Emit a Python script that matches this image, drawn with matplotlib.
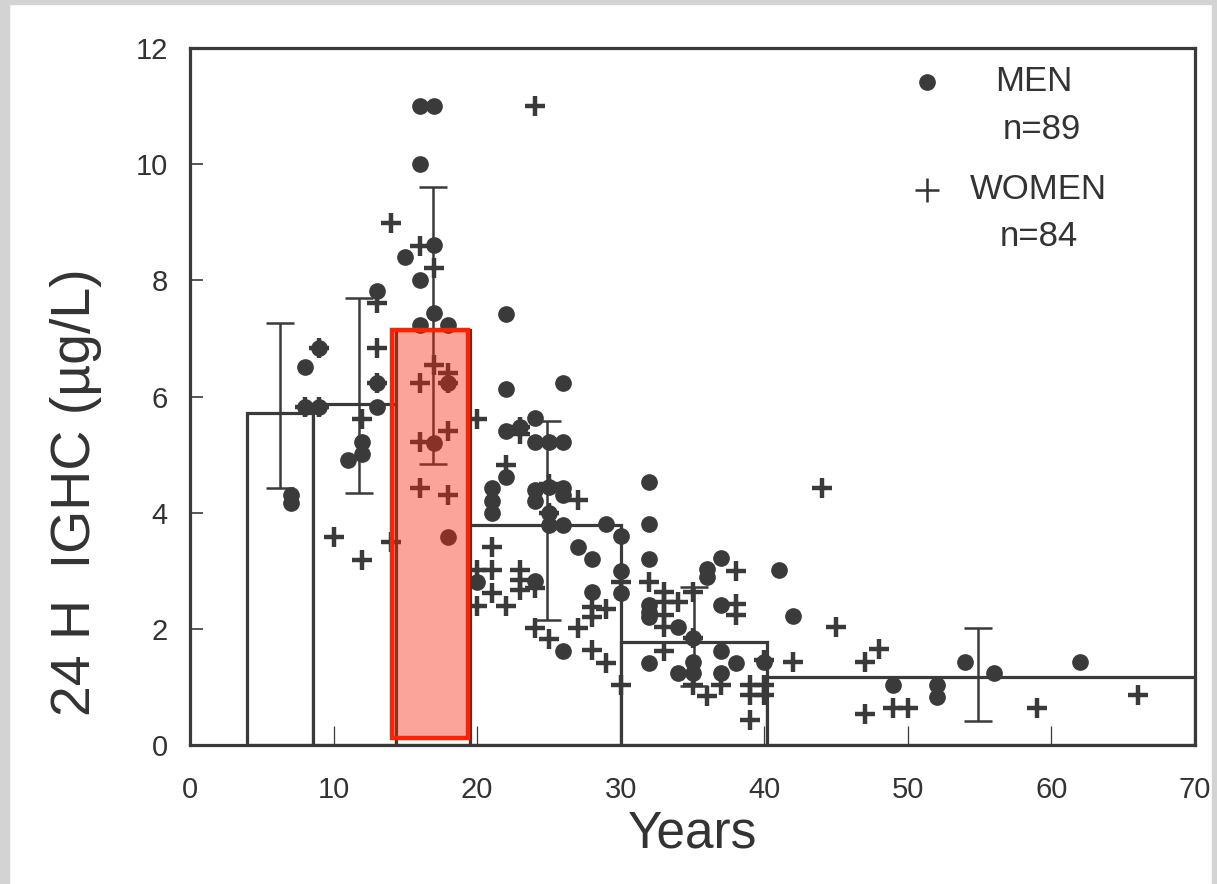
import numpy as np
import matplotlib
matplotlib.use("Agg")
import matplotlib.pyplot as plt
from matplotlib.patches import Rectangle

# group boxes (age ranges and mean level)
bar_left = [4.0, 8.6, 14.35, 19.5, 30.0, 40.2]
bar_right = [8.6, 14.35, 19.5, 30.0, 40.2, 70.0]
bar_height = [5.71, 5.87, 7.14, 3.79, 1.77, 1.17]

# error bars (position, lower, upper)
err_x = [6.3, 11.8, 16.9, 24.9, 35.1, 54.9]
err_lo = [4.42, 4.34, 4.84, 2.15, 1.02, 0.41]
err_hi = [7.26, 7.69, 9.60, 5.58, 2.72, 2.01]

men_age = [16, 17, 16, 17, 15, 16, 13, 17, 16, 18, 9, 8, 13, 18, 8, 9, 13, 12, 12, 11,
           7, 7, 17, 18, 20, 21, 21, 21, 22, 22, 26, 24, 22, 23, 24, 25, 26, 22, 24, 24,
           25, 26, 26, 25, 25, 26, 29, 30, 27, 28, 24, 30, 30, 28, 26, 32, 32, 32, 32, 32,
           32, 32, 34, 36, 36, 37, 37, 41, 42, 35, 35, 35, 34, 37, 38, 37, 40, 49, 52, 52,
           54, 56, 62]
men_val = [11.0, 11.0, 10.0, 8.6, 8.4, 8.0, 7.82, 7.44, 7.23, 7.23, 6.84, 6.51, 6.23, 6.23, 5.82, 5.82, 5.82, 5.22, 5.01, 4.91,
           4.3, 4.17, 5.2, 3.58, 2.81, 4.42, 4.2, 3.99, 7.42, 6.13, 6.23, 5.63, 5.41, 5.48, 5.22, 5.22, 5.22, 4.61, 4.39, 4.2,
           4.44, 4.42, 4.3, 3.99, 3.79, 3.79, 3.8, 3.6, 3.41, 3.2, 2.82, 3.0, 2.61, 2.63, 1.62, 4.53, 3.8, 3.2, 2.41, 2.29,
           2.2, 1.41, 2.03, 3.03, 2.9, 3.22, 2.41, 3.01, 2.22, 1.84, 1.43, 1.24, 1.24, 1.62, 1.41, 1.24, 1.43, 1.03, 1.03, 0.83,
           1.43, 1.24, 1.43]

women_age = [14, 16, 17, 13, 13, 9, 13, 17, 18, 16, 18, 8, 9, 12, 16, 18, 16, 18, 10, 12,
             14, 20, 24, 23, 23, 22, 25, 27, 25, 21, 20, 21, 23, 23, 23, 24, 21, 20, 22, 24,
             25, 27, 28, 28, 29, 28, 29, 30, 30, 32, 33, 33, 33, 33, 34, 35, 33, 35, 35, 36,
             37, 38, 38, 38, 40, 39, 40, 39, 40, 39, 42, 44, 45, 47, 48, 47, 49, 50, 59, 66]
women_val = [8.99, 8.59, 8.21, 7.61, 6.84, 6.84, 6.23, 6.54, 6.4, 6.23, 6.23, 5.82, 5.82, 5.61, 5.22, 5.41, 4.42, 4.3, 3.58, 3.19,
             3.5, 5.61, 11.0, 5.48, 5.35, 4.82, 4.5, 4.22, 3.99, 3.41, 3.01, 3.01, 3.01, 2.84, 2.67, 2.7, 2.61, 2.4, 2.4, 2.01,
             1.82, 2.01, 2.38, 2.2, 2.34, 1.64, 1.41, 2.81, 1.03, 2.81, 2.63, 2.46, 2.24, 2.03, 2.46, 2.63, 1.62, 1.84, 1.03, 0.84,
             1.03, 3.0, 2.43, 2.24, 1.46, 1.03, 1.03, 0.86, 0.86, 0.43, 1.43, 4.42, 2.03, 1.43, 1.65, 0.53, 0.64, 0.64, 0.64, 0.86]

# highlighted range (14-19 years)
hl_x0, hl_x1, hl_y0, hl_y1 = 14.05, 19.35, 0.12, 7.14

dark = "#3a3a3a"
txt = "#333333"
plt.rcParams['font.family'] = ['Liberation Sans', 'DejaVu Sans']

fig = plt.figure(figsize=(12.17, 8.84), dpi=100)
# scan border
fig.patches.append(Rectangle((0, 0), 9 / 1217, 1, transform=fig.transFigure, color="#d3d3d3", zorder=0))
fig.patches.append(Rectangle((0, 1 - 4 / 884), 1, 4 / 884, transform=fig.transFigure, color="#d3d3d3", zorder=0))
fig.patches.append(Rectangle((1 - 5 / 1217, 0), 5 / 1217, 1, transform=fig.transFigure, color="#d3d3d3", zorder=0))

ax = fig.add_axes([190 / 1217, 1 - 745 / 884, (1195 - 190) / 1217, (745 - 48) / 884])

widths = np.array(bar_right) - np.array(bar_left)
ax.bar(bar_left, bar_height, width=widths, align='edge', facecolor='white',
       edgecolor=dark, linewidth=2.3, zorder=1)

mid = (np.array(err_lo) + np.array(err_hi)) / 2
half = (np.array(err_hi) - np.array(err_lo)) / 2
ax.errorbar(err_x, mid, yerr=half, fmt='none', ecolor=dark, elinewidth=1.8,
            capsize=10, capthick=1.8, zorder=2)

ax.plot(men_age, men_val, 'o', color=dark, markersize=11, zorder=3, linestyle='none')
ax.plot(women_age, women_val, '+', color=dark, markersize=14, mew=3.2, zorder=3, linestyle='none')

ax.add_patch(Rectangle((hl_x0, hl_y0), hl_x1 - hl_x0, hl_y1 - hl_y0,
                       facecolor=(0.96, 0.15, 0.06, 0.42), edgecolor='#ff2200',
                       linewidth=3.2, zorder=4))

ax.set_xlim(0, 70)
ax.set_ylim(0, 12)
ax.set_xticks(range(0, 71, 10))
ax.set_yticks(range(0, 13, 2))
ax.tick_params(axis='y', direction='in', length=9, width=1.2, pad=16, labelsize=21, labelcolor=txt, color=dark)
ax.tick_params(axis='x', direction='in', length=14, width=0.9, pad=22, labelsize=21, labelcolor=txt, color=dark)
for s in ax.spines.values():
    s.set_linewidth(2.3)
    s.set_color(dark)

ax.set_xlabel("Years", fontsize=37, color=txt, labelpad=4)
fig.text(76 / 1217, 1 - 492 / 884, "24 H  IGHC (µg/L)", rotation=90, fontsize=40,
         color=txt, ha='center', va='center')

# legend
ax.plot([51.3], [11.42], 'o', color=dark, markersize=11, clip_on=False)
ax.text(56.1, 11.42, "MEN", fontsize=25, color=txt, va='center', ha='left')
ax.text(56.6, 10.59, "n=89", fontsize=25, color=txt, va='center', ha='left')
ax.plot([51.3], [9.56], '+', color=txt, markersize=17, mew=1.8, clip_on=False)
ax.text(54.3, 9.56, "WOMEN", fontsize=25, color=txt, va='center', ha='left')
ax.text(56.4, 8.75, "n=84", fontsize=25, color=txt, va='center', ha='left')

fig.savefig("out.png", dpi=100)
